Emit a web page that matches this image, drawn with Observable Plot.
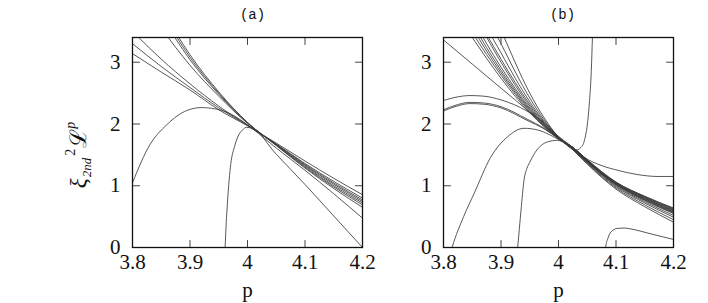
<!DOCTYPE html>
<html><head><meta charset="utf-8">
<script src="https://cdn.jsdelivr.net/npm/d3@7"></script>
<script src="https://cdn.jsdelivr.net/npm/@observablehq/plot@0.6"></script>
<style>
body{margin:0;background:#fff}
#wrap{position:relative;width:708px;height:303px;background:#fff}
#wrap svg{position:absolute;top:0}
#wrap svg text, #wrap svg tspan{font-family:"Liberation Serif","Times New Roman",serif !important}
#wrap svg text.mono{font-family:"Liberation Mono","Courier New",monospace !important}
</style>
</head><body><div id="wrap"></div>
<script>
// ---- axes / labels ----
const xTicks = [3.8, 3.9, 4.0, 4.1, 4.2];
const xTickLabels = ["3.8", "3.9", "4", "4.1", "4.2"];
const yTicks = [0, 1, 2, 3];
const yTickLabels = ["0", "1", "2", "3"];
const xDomain = [3.8, 4.2];
const yDomain = [0, 3.4];
const panelTitles = ["(a)", "(b)"];
const xLabel = "p";

// ---- panel (a) series: [p, value] ----
const a1 = [[3.80,3.14],[3.85,2.84],[3.90,2.55],[3.95,2.23],[4.00,1.97],[4.05,1.69],[4.10,1.40],[4.15,1.12],[4.20,0.855]];
const a2 = [[3.80,3.30],[3.85,2.93],[3.90,2.59],[3.95,2.26],[4.00,1.975],[4.05,1.675],[4.10,1.36],[4.15,1.07],[4.20,0.80]];
const a3 = [[3.80,3.50],[3.85,3.05],[3.90,2.65],[3.95,2.29],[4.00,1.98],[4.05,1.67],[4.10,1.345],[4.15,1.045],[4.20,0.77]];
const a4 = [[3.80,4.30],[3.85,3.56],[3.90,2.95],[3.95,2.45],[4.00,2.01],[4.05,1.665],[4.10,1.33],[4.15,1.025],[4.20,0.745]];
const a5 = [[3.80,4.55],[3.85,3.75],[3.90,3.04],[3.95,2.48],[4.00,2.015],[4.05,1.66],[4.10,1.315],[4.15,1.00],[4.20,0.72]];
const a6 = [[3.80,4.65],[3.85,3.82],[3.90,3.08],[3.95,2.50],[4.00,2.02],[4.05,1.655],[4.10,1.30],[4.15,0.98],[4.20,0.69]];
const a7 = [[3.80,4.75],[3.85,3.88],[3.90,3.12],[3.95,2.52],[4.00,2.025],[4.05,1.65],[4.10,1.285],[4.15,0.955],[4.20,0.65]];
const a8 = [[3.80,1.05],[3.83,1.66],[3.86,1.99],[3.895,2.22],[3.92,2.265],[3.955,2.22],[3.977,2.13],[4.008,1.93],[4.05,1.61],[4.10,1.25],[4.15,0.87],[4.20,0.475]];
const a9 = [[3.955,-0.5],[3.961,0],[3.963,0.4],[3.965,0.71],[3.971,1.36],[3.977,1.62],[3.983,1.79],[3.991,1.90],[3.998,1.945],[4.008,1.93],[4.05,1.51],[4.10,1.02],[4.15,0.51],[4.20,0.0]];

// ---- panel (b) series ----
const bDiag = [[3.80,3.36],[3.85,2.97],[3.90,2.58],[3.95,2.19],[4.00,1.78],[4.025,1.61],[4.05,1.40],[4.10,1.04],[4.15,0.80],[4.20,0.60]];
const b2 = [[3.80,2.38],[3.82,2.43],[3.846,2.46],[3.87,2.45],[3.90,2.39],[3.945,2.21],[3.975,2.02],[4.00,1.80],[4.025,1.62],[4.045,1.46],[4.074,1.33],[4.103,1.25],[4.138,1.18],[4.173,1.15],[4.20,1.15]];
const b3 = [[3.80,2.23],[3.82,2.30],[3.846,2.35],[3.87,2.34],[3.90,2.28],[3.945,2.08],[3.975,1.93],[4.00,1.77],[4.025,1.62],[4.05,1.42],[4.10,1.06],[4.15,0.83],[4.20,0.64]];
const b4 = [[3.80,2.21],[3.82,2.28],[3.846,2.33],[3.87,2.32],[3.90,2.26],[3.945,2.06],[3.975,1.92],[4.00,1.765],[4.025,1.62],[4.05,1.42],[4.10,1.055],[4.15,0.825],[4.20,0.63]];
const b5 = [[3.812,-0.1],[3.815,0],[3.835,0.50],[3.853,0.87],[3.882,1.46],[3.911,1.79],[3.94,1.93],[3.965,1.90],[3.99,1.80],[4.00,1.75],[4.025,1.62],[4.05,1.41],[4.10,1.05],[4.15,0.82],[4.20,0.62]];
const b6 = [[3.927,-0.2],[3.929,0],[3.935,0.62],[3.94,1.09],[3.945,1.28],[3.95,1.38],[3.958,1.52],[3.981,1.71],[3.998,1.735],[4.01,1.70],[4.025,1.62],[4.05,1.41],[4.10,1.045],[4.15,0.81],[4.20,0.61]];
const t1 = [[3.80,4.10],[3.85,3.40],[3.90,2.74],[3.95,2.18],[4.00,1.76],[4.025,1.60],[4.05,1.40],[4.10,1.035],[4.15,0.795],[4.20,0.59]];
const t2 = [[3.80,4.25],[3.85,3.48],[3.90,2.79],[3.95,2.20],[4.00,1.76],[4.025,1.60],[4.05,1.395],[4.10,1.03],[4.15,0.785],[4.20,0.58]];
const t3 = [[3.80,4.40],[3.85,3.56],[3.90,2.83],[3.95,2.22],[4.00,1.765],[4.025,1.60],[4.05,1.39],[4.10,1.025],[4.15,0.775],[4.20,0.57]];
const t4 = [[3.80,4.50],[3.85,3.63],[3.90,2.87],[3.95,2.24],[4.00,1.77],[4.025,1.595],[4.05,1.39],[4.10,1.02],[4.15,0.77],[4.20,0.56]];
const t5 = [[3.80,4.70],[3.85,3.72],[3.90,2.92],[3.95,2.26],[4.00,1.77],[4.025,1.59],[4.05,1.385],[4.10,1.015],[4.15,0.76],[4.20,0.55]];
const t6 = [[3.80,4.90],[3.85,3.85],[3.90,3.00],[3.95,2.29],[4.00,1.775],[4.025,1.59],[4.05,1.38],[4.10,1.00],[4.15,0.74],[4.20,0.52]];
const t7 = [[3.80,5.20],[3.85,4.02],[3.90,3.15],[3.95,2.36],[4.00,1.78],[4.025,1.59],[4.05,1.37],[4.10,0.985],[4.15,0.72],[4.20,0.49]];
const t8 = [[3.80,5.60],[3.85,4.25],[3.90,3.30],[3.95,2.42],[4.00,1.785],[4.025,1.585],[4.05,1.36],[4.10,0.965],[4.15,0.69],[4.20,0.45]];
const t9 = [[3.80,6.20],[3.85,4.60],[3.90,3.52],[3.95,2.50],[3.975,2.10],[4.00,1.79],[4.025,1.58],[4.05,1.35],[4.10,0.945],[4.15,0.66],[4.20,0.41]];
const poleLeft = [[3.80,5.00],[3.85,3.90],[3.90,3.05],[3.95,2.32],[4.00,1.78],[4.02,1.62],[4.03,1.575],[4.039,1.62],[4.045,1.73],[4.051,2.06],[4.054,2.38],[4.057,2.85],[4.059,3.4],[4.061,4.0]];
const poleRight = [[4.080,-0.3],[4.082,0],[4.086,0.15],[4.091,0.25],[4.103,0.31],[4.115,0.315],[4.126,0.30],[4.161,0.22],[4.20,0.13]];

const seriesA = [a1,a2,a3,a4,a5,a6,a7,a8,a9];
const seriesB = [bDiag,b2,b3,b4,b5,b6,t1,t2,t3,t4,t5,t6,t7,t8,t9,poleLeft,poleRight];

function table(list) {
  return list.flatMap((s, k) => s.map(([x, y]) => ({x, y, id: k})));
}

const tickShape = {draw(ctx, l) { ctx.moveTo(0, 0); ctx.lineTo(0, -l); }};
const serif = "Liberation Serif, Times New Roman, serif";
const mono = "Liberation Mono, Courier New, monospace";

function panel({series, title, width, marginLeft, marginRight, titleDx}) {
  const tk = {length: 7, anchor: "start", shape: tickShape, stroke: "#444", strokeWidth: 1};
  const svg = Plot.plot({
    width, height: 303, marginLeft, marginRight, marginTop: 37, marginBottom: 56,
    x: {domain: xDomain},
    y: {domain: yDomain},
    style: {fontFamily: serif, fontSize: "20px", background: "transparent", overflow: "visible", color: "#111"},
    marks: [
      Plot.line(table(series), {x: "x", y: "y", z: "id", curve: "monotone-x", clip: true, stroke: "#3a3a3a", strokeWidth: 0.85}),
      Plot.vector(yTicks, {x: () => xDomain[0], y: d => d, rotate: 90, ...tk}),
      Plot.vector(yTicks, {x: () => xDomain[1], y: d => d, rotate: -90, ...tk}),
      Plot.vector(xTicks, {x: d => d, y: () => yDomain[0], rotate: 0, ...tk}),
      Plot.vector(xTicks, {x: d => d, y: () => yDomain[1], rotate: 180, ...tk}),
      Plot.frame({stroke: "#111", strokeWidth: 1.3}),
      Plot.axisY({ticks: yTicks, tickFormat: d => yTickLabels[yTicks.indexOf(d)], tickSize: 0, tickPadding: 12, fontSize: 21, fontFamily: serif, fontVariant: "normal", fill: "#111", label: null}),
      Plot.axisX({ticks: xTicks, tickFormat: d => xTickLabels[xTicks.indexOf(d)], tickSize: 0, tickPadding: 7, fontSize: 21, fontFamily: serif, fontVariant: "normal", fill: "#111", label: null}),
      Plot.text([xLabel], {frameAnchor: "bottom", text: d => d, dy: 43, lineAnchor: "middle", fontSize: 21, fontFamily: serif, fill: "#111"}),
      Plot.text([title], {frameAnchor: "top", text: d => d, dy: -23, dx: titleDx, lineAnchor: "middle", fontFamily: mono, fontSize: 14, fill: "#111"})
    ]
  });
  d3.select(svg).selectAll("text").filter(function() { return this.textContent === title; }).classed("mono", true);
  return svg;
}

const wrap = document.getElementById("wrap");
const svgA = panel({series: seriesA, title: panelTitles[0], width: 370, marginLeft: 132, marginRight: 8, titleDx: 5});
svgA.style.left = "0px";
const svgB = panel({series: seriesB, title: panelTitles[1], width: 338, marginLeft: 73, marginRight: 35, titleDx: 4});
svgB.style.left = "370px";
wrap.appendChild(svgA);
wrap.appendChild(svgB);

// y-axis label with sub/superscripts
const lab = d3.select(svgA).append("text")
  .attr("transform", "translate(86,155) rotate(-90)")
  .attr("text-anchor", "middle")
  .attr("font-size", 23)
  .attr("fill", "#111");
lab.append("tspan").attr("font-style", "italic").text("ξ");
lab.append("tspan").attr("font-size", 13).attr("font-style", "italic").attr("dy", 5).attr("dx", 1).text("2nd");
lab.append("tspan").attr("font-size", 14).attr("dy", -16).attr("dx", 2).text("2");
lab.append("tspan").attr("dy", 11).attr("dx", 1).text("ℒ");
lab.append("tspan").attr("font-size", 14).attr("font-style", "italic").attr("dy", -11).text("p");
</script>
</body></html>
